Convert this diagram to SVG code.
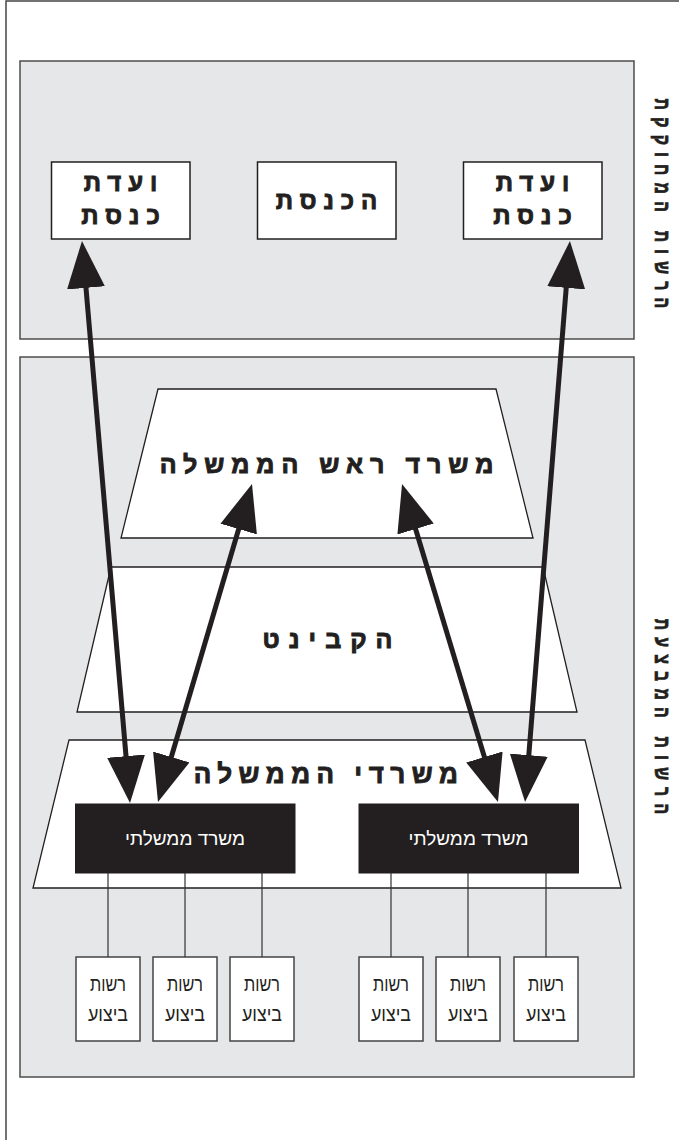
<svg xmlns="http://www.w3.org/2000/svg" width="679" height="1140" viewBox="0 0 679 1140">
<style>
.frame{fill:#fff;stroke:#444;stroke-width:1.5}
.panel{fill:#e6e7e8;stroke:#4d4d4d;stroke-width:1.5}
.box{fill:#fff;stroke:#231f20;stroke-width:1.5}
.trap{fill:#fff;stroke:#231f20;stroke-width:1.3}
.dark{fill:#231f20;stroke:#231f20;stroke-width:1}
.small{fill:#fff;stroke:#444;stroke-width:1.5}
.tick{stroke:#333;stroke-width:1.2;fill:none}
.head{font-family:"Liberation Sans","DejaVu Sans",sans-serif;font-weight:bold;fill:#231f20;stroke:#231f20;stroke-width:0.9;text-anchor:middle}
.side{font-family:"Liberation Sans","DejaVu Sans",sans-serif;font-weight:bold;fill:#231f20;stroke:#231f20;stroke-width:0.8;text-anchor:middle;font-size:22px;letter-spacing:10px}
.plain{font-family:"Liberation Sans","DejaVu Sans",sans-serif;text-anchor:middle}
.arrow{stroke:#231f20;stroke-width:5;fill:none;marker-start:url(#ah);marker-end:url(#ah)}
</style>
<defs>
<marker id="ah" viewBox="0 0 47 38" markerWidth="47" markerHeight="38" markerUnits="userSpaceOnUse" refX="35" refY="19" orient="auto-start-reverse">
<path d="M0,0 L47,19 L0,38 z" fill="#231f20"/>
</marker>
</defs>
<rect class="frame" x="6" y="1" width="700" height="1160"/>
<g id="legislative-panel">
<rect class="panel" x="20" y="61" width="614" height="278"/>
</g>
<g id="executive-panel">
<rect class="panel" x="20" y="357" width="614" height="720"/>
</g>
<g id="label-legislative">
<text class="side" transform="translate(655,207) rotate(90) scale(0.72,1)">הרשות המחוקקת</text>
</g>
<g id="label-executive">
<text class="side" transform="translate(655,720) rotate(90) scale(0.72,1)">הרשות המבצעת</text>
</g>
<g id="committee-left">
<rect class="box" x="51.5" y="162" width="138.5" height="77"/>
<text class="head" style="font-size:24px;letter-spacing:7px" x="124" y="191">ועדת</text>
<text class="head" style="font-size:24px;letter-spacing:7px" x="124" y="224">כנסת</text>
</g>
<g id="knesset">
<rect class="box" x="257.5" y="162" width="138.5" height="77"/>
<text class="head" style="font-size:24px;letter-spacing:7px" x="330" y="209">הכנסת</text>
</g>
<g id="committee-right">
<rect class="box" x="463.5" y="162" width="138.5" height="77"/>
<text class="head" style="font-size:24px;letter-spacing:7px" x="536" y="191">ועדת</text>
<text class="head" style="font-size:24px;letter-spacing:7px" x="536" y="224">כנסת</text>
</g>
<g id="pm-office">
<polygon class="trap" points="158,389 496,389 533,538 121,538"/>
<text class="head" style="font-size:25px;letter-spacing:7px" x="330" y="473">משרד ראש הממשלה</text>
</g>
<g id="cabinet">
<polygon class="trap" points="111,567 543,567 577,712 77,712"/>
<text class="head" style="font-size:25px;letter-spacing:9px" x="332" y="648">הקבינט</text>
</g>
<g id="ministries">
<polygon class="trap" points="69,740 585,740 621,888 33,888"/>
<text class="head" style="font-size:26px;letter-spacing:6.5px" x="329" y="783">משרדי הממשלה</text>
</g>
<g id="ministry-left">
<rect class="dark" x="75.5" y="804" width="219.5" height="69"/>
<text class="plain" style="font-size:19px;fill:#fff" x="185" y="845" textLength="120" lengthAdjust="spacingAndGlyphs">משרד ממשלתי</text>
</g>
<g id="ministry-right">
<rect class="dark" x="359" y="804" width="219.5" height="69"/>
<text class="plain" style="font-size:19px;fill:#fff" x="468.5" y="845" textLength="120" lengthAdjust="spacingAndGlyphs">משרד ממשלתי</text>
</g>
<g id="authority-1">
<rect class="small" x="76" y="957" width="64" height="84"/>
<text class="plain" style="font-size:20px;fill:#231f20" x="108" y="991" textLength="36" lengthAdjust="spacingAndGlyphs">רשות</text>
<text class="plain" style="font-size:20px;fill:#231f20" x="108" y="1021" textLength="40" lengthAdjust="spacingAndGlyphs">ביצוע</text>
</g>
<g id="authority-2">
<rect class="small" x="153" y="957" width="64" height="84"/>
<text class="plain" style="font-size:20px;fill:#231f20" x="185" y="991" textLength="36" lengthAdjust="spacingAndGlyphs">רשות</text>
<text class="plain" style="font-size:20px;fill:#231f20" x="185" y="1021" textLength="40" lengthAdjust="spacingAndGlyphs">ביצוע</text>
</g>
<g id="authority-3">
<rect class="small" x="230" y="957" width="64" height="84"/>
<text class="plain" style="font-size:20px;fill:#231f20" x="262" y="991" textLength="36" lengthAdjust="spacingAndGlyphs">רשות</text>
<text class="plain" style="font-size:20px;fill:#231f20" x="262" y="1021" textLength="40" lengthAdjust="spacingAndGlyphs">ביצוע</text>
</g>
<g id="authority-4">
<rect class="small" x="359" y="957" width="64" height="84"/>
<text class="plain" style="font-size:20px;fill:#231f20" x="391" y="991" textLength="36" lengthAdjust="spacingAndGlyphs">רשות</text>
<text class="plain" style="font-size:20px;fill:#231f20" x="391" y="1021" textLength="40" lengthAdjust="spacingAndGlyphs">ביצוע</text>
</g>
<g id="authority-5">
<rect class="small" x="436" y="957" width="64" height="84"/>
<text class="plain" style="font-size:20px;fill:#231f20" x="468" y="991" textLength="36" lengthAdjust="spacingAndGlyphs">רשות</text>
<text class="plain" style="font-size:20px;fill:#231f20" x="468" y="1021" textLength="40" lengthAdjust="spacingAndGlyphs">ביצוע</text>
</g>
<g id="authority-6">
<rect class="small" x="514" y="957" width="64" height="84"/>
<text class="plain" style="font-size:20px;fill:#231f20" x="546" y="991" textLength="36" lengthAdjust="spacingAndGlyphs">רשות</text>
<text class="plain" style="font-size:20px;fill:#231f20" x="546" y="1021" textLength="40" lengthAdjust="spacingAndGlyphs">ביצוע</text>
</g>
<g id="connectors">
<path class="tick" d="M108,873 V957 M185,873 V957 M262,873 V957 M391,873 V957 M468,873 V957 M546,873 V957"/>
<line class="arrow" x1="83" y1="253" x2="129" y2="791"/>
<line class="arrow" x1="248.6" y1="495.5" x2="161.4" y2="790.5"/>
<line class="arrow" x1="405.5" y1="495.5" x2="494.5" y2="790.5"/>
<line class="arrow" x1="569" y1="253" x2="526" y2="790"/>
</g>
</svg>
